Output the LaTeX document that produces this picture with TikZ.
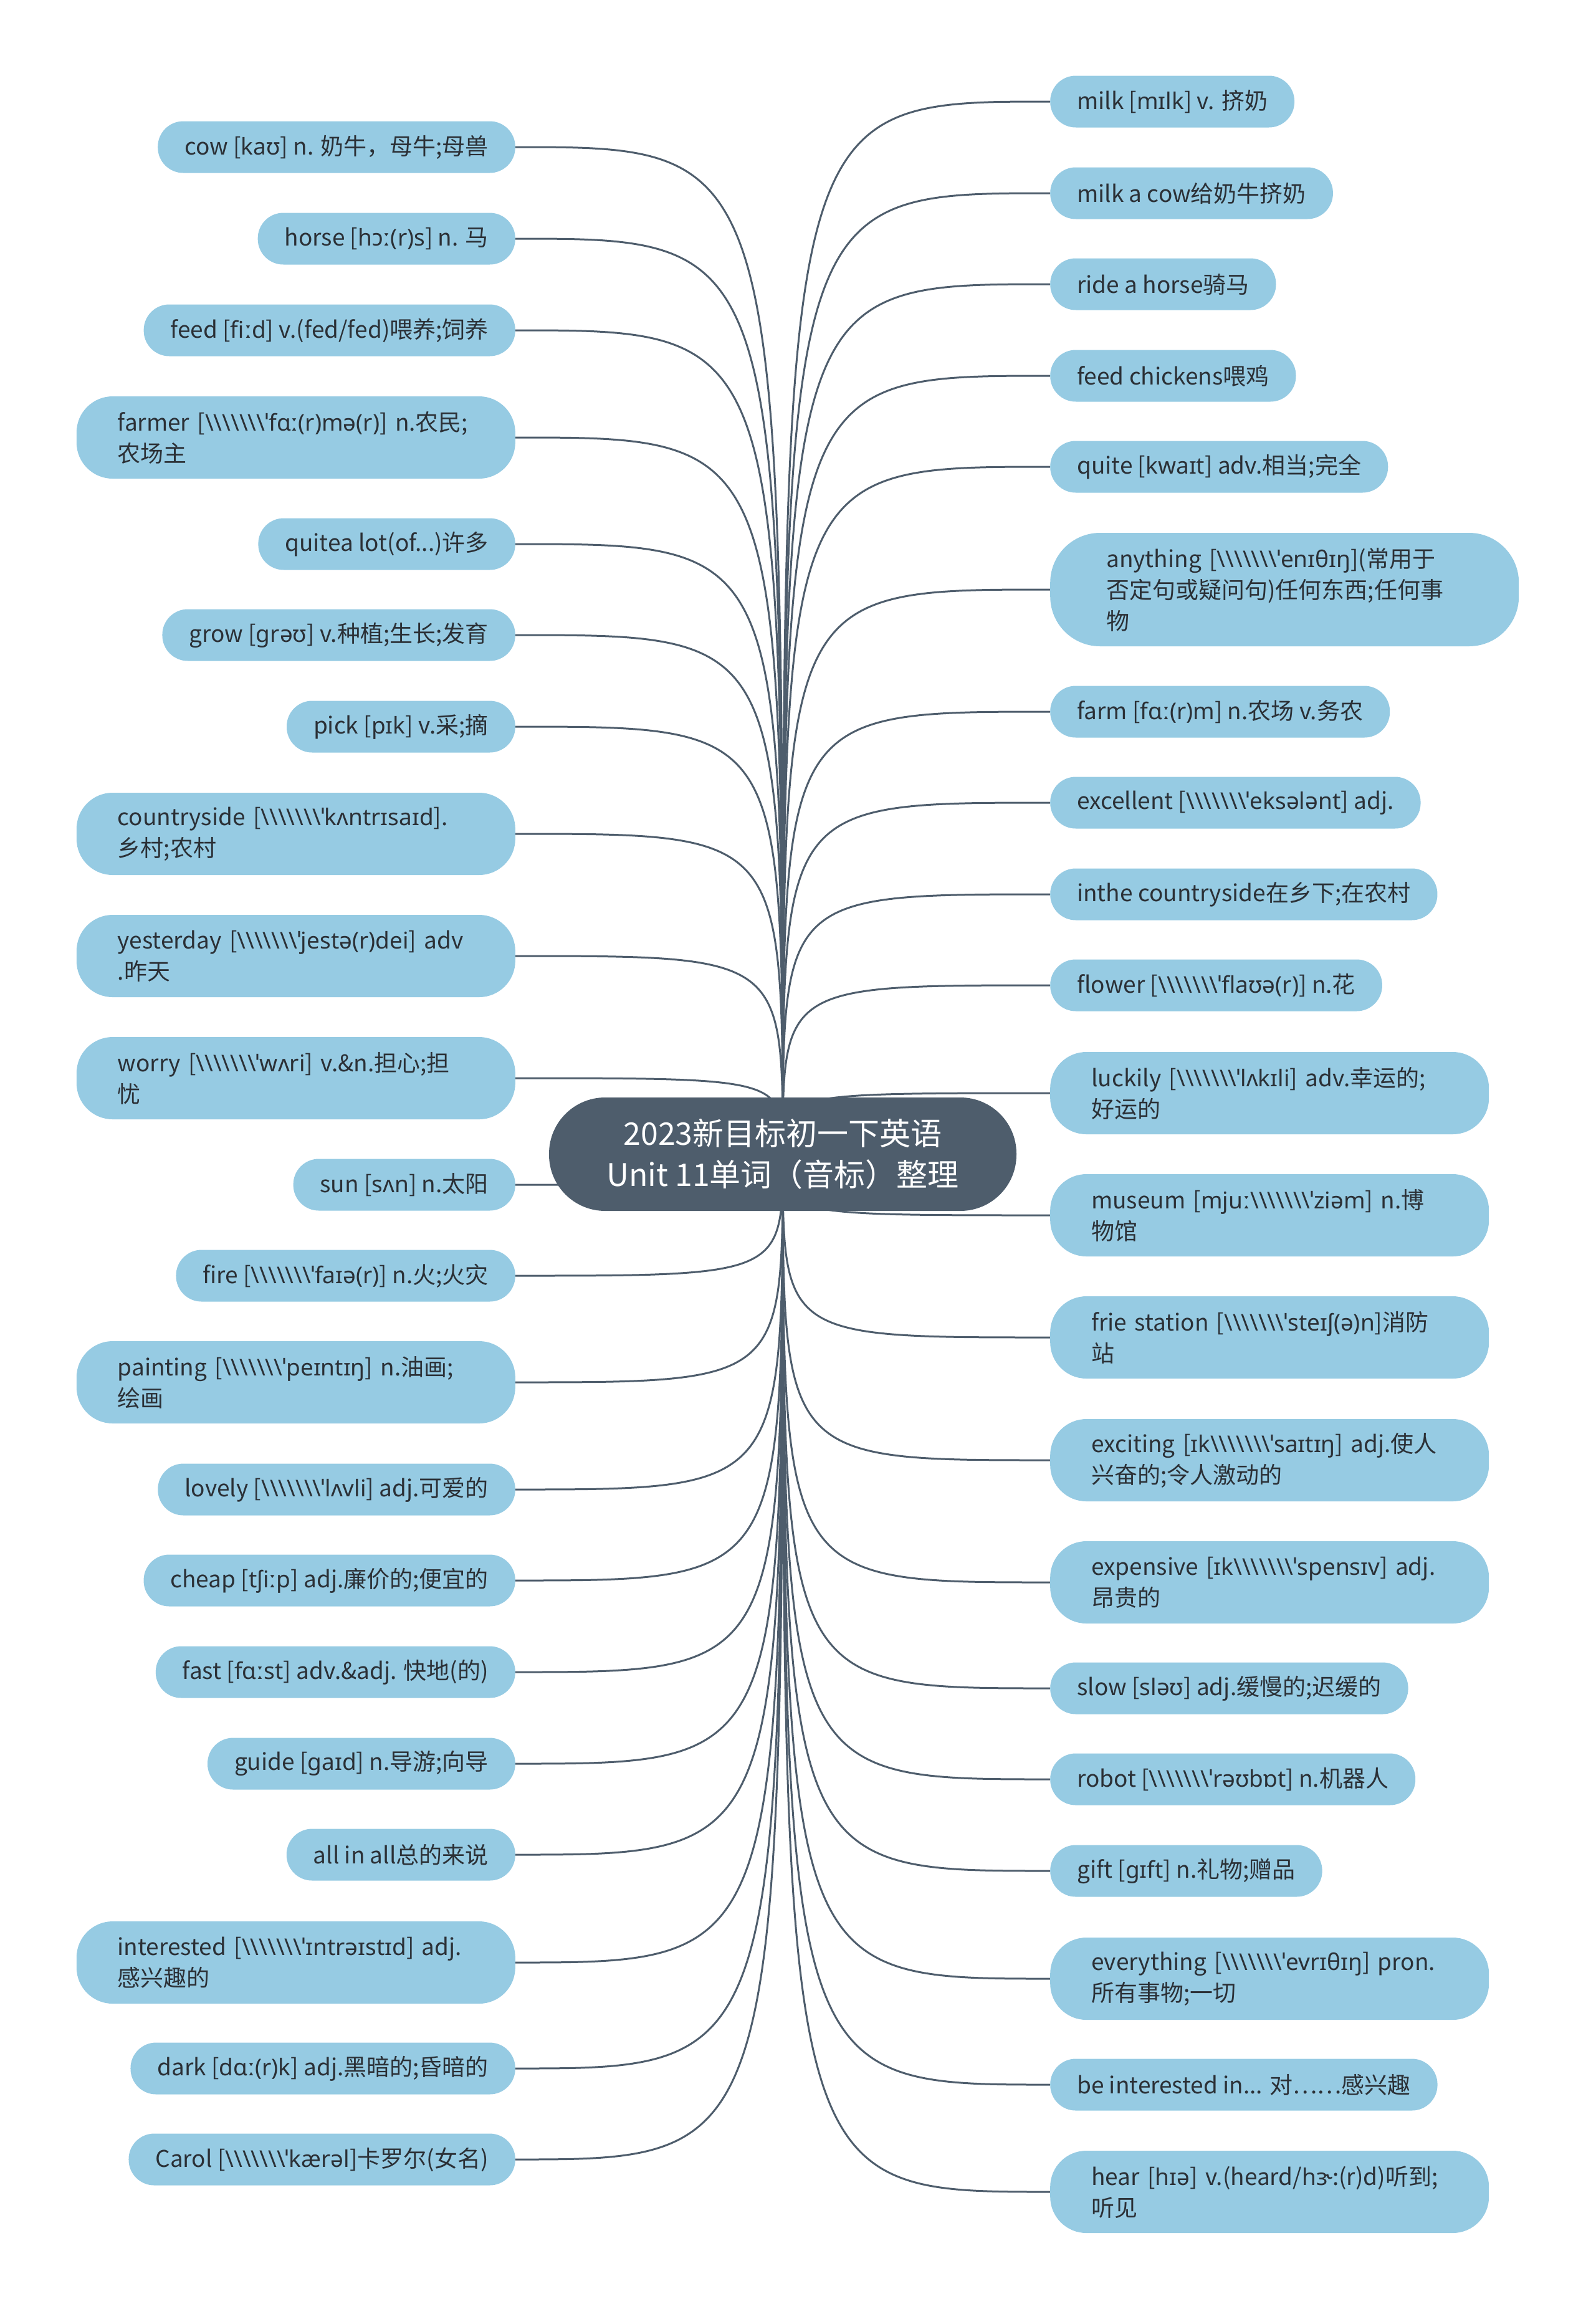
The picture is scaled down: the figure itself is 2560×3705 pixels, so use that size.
\documentclass[tikz,border=0pt]{standalone}
\usepackage{fontspec}
\setmainfont{Noto Sans CJK SC}
\newfontfamily\ipafont{Noto Sans}
\usetikzlibrary{backgrounds}
\definecolor{rootcolor}{HTML}{4E5D6C}
\definecolor{leafcolor}{HTML}{96CBE3}
\definecolor{wordcolor}{HTML}{2B3036}
\newcommand\ph[1]{{\ipafont #1}}
\newcommand\bsq{{\ipafont\textbackslash\textbackslash\textbackslash\textbackslash\textbackslash\textbackslash\textbackslash ˈ}}

\begin{document}
\begin{tikzpicture}[x=1pt,y=-1pt,
  every node/.style={font=\fontsize{37}{50}\selectfont,text=wordcolor},
  leaf/.style={fill=leafcolor,rounded corners=41pt,minimum height=83pt,inner xsep=43pt,inner ysep=0pt},
  multi/.style={rounded corners=58pt,minimum height=132pt,text width=572pt,align=left,inner xsep=66pt},
  root/.style={fill=rootcolor,text=white,rounded corners=90pt,minimum width=750pt,minimum height=182pt,
    align=center,font=\fontsize{50}{66}\selectfont},
  link/.style={draw=rootcolor,line width=3pt}]
  \useasboundingbox (0,0) rectangle (2560,3705);

  \node[root] (root) at (1256,1852) {2023新目标初一下英语\\Unit 11单词（音标）整理};

  % left branch
  \foreach \n/\y/\t in {
    cowL/236/{cow [\ph{kaʊ}] n. 奶牛，母牛;母兽},
    horseL/383/{horse [\ph{hɔː(r)s}] n. 马},
    feedL/530/{feed [\ph{fiːd}] v.(fed/fed)喂养;饲养},
    quiteaL/873/{quitea lot(of...)许多},
    growL/1019/{grow [\ph{grəʊ}] v.种植;生长;发育},
    pickL/1166/{pick [\ph{pɪk}] v.采;摘},
    sunL/1901/{sun [\ph{sʌn}] n.太阳},
    fireL/2047/{fire [\bsq\ph{faɪə(r)}] n.火;火灾},
    lovelyL/2390/{lovely [\bsq\ph{lʌvli}] adj.可爱的},
    cheapL/2536/{cheap [\ph{tʃiːp}] adj.廉价的;便宜的},
    fastL/2683/{fast [\ph{fɑːst}] adv.\&adj. 快地(的)},
    guideL/2830/{guide [\ph{gaɪd}] n.导游;向导},
    allL/2976/{all in all总的来说},
    darkL/3319/{dark [\ph{dɑː(r)k}] adj.黑暗的;昏暗的},
    carolL/3465/{Carol [\bsq\ph{kærəl}]卡罗尔(女名)}}
    \node[leaf,anchor=east] (\n) at (827,\y) {\t};
  \foreach \n/\y/\t in {
    farmerL/702/{farmer [\bsq\ph{fɑː(r)mə(r)}] n.农民;\\农场主},
    countrysideL/1338/{countryside [\bsq\ph{kʌntrɪsaɪd}].\\乡村;农村},
    yesterdayL/1534/{yesterday [\bsq\ph{jestə(r)dei}] adv\\.昨天},
    worryL/1730/{worry [\bsq\ph{wʌri}] v.\&n.担心;担\\忧},
    paintingL/2218/{painting [\bsq\ph{peɪntɪŋ}] n.油画;\\绘画},
    interestedL/3149/{interested [\bsq\ph{ɪntrəɪstɪd}] adj.\\感兴趣的}}
    \node[leaf,multi,anchor=east] (\n) at (827,\y) {\t};

  % right branch
  \foreach \n/\y/\t in {
    milkR/163/{milk [\ph{mɪlk}] v. 挤奶},
    cowR/310/{milk a cow给奶牛挤奶},
    rideR/456/{ride a horse骑马},
    chickensR/603/{feed chickens喂鸡},
    quiteR/749/{quite [\ph{kwaɪt}] adv.相当;完全},
    farmR/1142/{farm [\ph{fɑː(r)m}] n.农场 v.务农},
    excellentR/1288/{excellent [\bsq\ph{eksələnt}] adj.},
    villageR/1435/{inthe countryside在乡下;在农村},
    flowerR/1581/{flower [\bsq\ph{flaʊə(r)}] n.花},
    slowR/2709/{slow [\ph{sləʊ}] adj.缓慢的;迟缓的},
    robotR/2855/{robot [\bsq\ph{rəʊbɒt}] n.机器人},
    giftR/3002/{gift [\ph{gɪft}] n.礼物;赠品},
    beinterestedR/3345/{be interested in... 对……感兴趣}}
    \node[leaf,anchor=west] (\n) at (1685,\y) {\t};
  \foreach \n/\y/\t in {
    luckilyR/1754/{luckily [\bsq\ph{lʌkɪli}] adv.幸运的;\\好运的},
    museumR/1950/{museum [\ph{mjuː}\bsq\ph{ziəm}] n.博\\物馆},
    stationR/2146/{frie station [\bsq\ph{steɪʃ(ə)n}]消防\\站},
    excitingR/2343/{exciting [\ph{ɪk}\bsq\ph{saɪtɪŋ}] adj.使人\\兴奋的;令人激动的},
    expensiveR/2539/{expensive [\ph{ɪk}\bsq\ph{spensɪv}] adj.\\昂贵的},
    everythingR/3175/{everything [\bsq\ph{evrɪθɪŋ}] pron.\\所有事物;一切},
    hearR/3517/{hear [\ph{hɪə}] v.(heard/\ph{hɜ˞}:(r)d)听到;\\听见}}
    \node[leaf,multi,anchor=west] (\n) at (1685,\y) {\t};
  \node[leaf,multi,anchor=west,minimum height=182pt,rounded corners=80pt,inner xsep=90pt] (anythingR) at (1685,946)
    {anything [\bsq\ph{enɪθɪŋ}](常用于\\否定句或疑问句)任何东西;任何事\\物};

  % connectors
  \begin{pgfonlayer}{background}
    \fill[white] (0,0) rectangle (2560,3705);
    \foreach \n in {cowL,horseL,feedL,farmerL,quiteaL,growL,pickL,countrysideL,yesterdayL,worryL,sunL,
      fireL,paintingL,lovelyL,cheapL,fastL,guideL,allL,interestedL,darkL,carolL}
      \draw[link] (root.center) .. controls (root.center |- \n.east) .. (\n.east);
    \foreach \n in {milkR,cowR,rideR,chickensR,quiteR,anythingR,farmR,excellentR,villageR,flowerR,luckilyR,
      museumR,stationR,excitingR,expensiveR,slowR,robotR,giftR,everythingR,beinterestedR,hearR}
      \draw[link] (root.center) .. controls (root.center |- \n.west) .. (\n.west);
  \end{pgfonlayer}
\end{tikzpicture}
\end{document}
